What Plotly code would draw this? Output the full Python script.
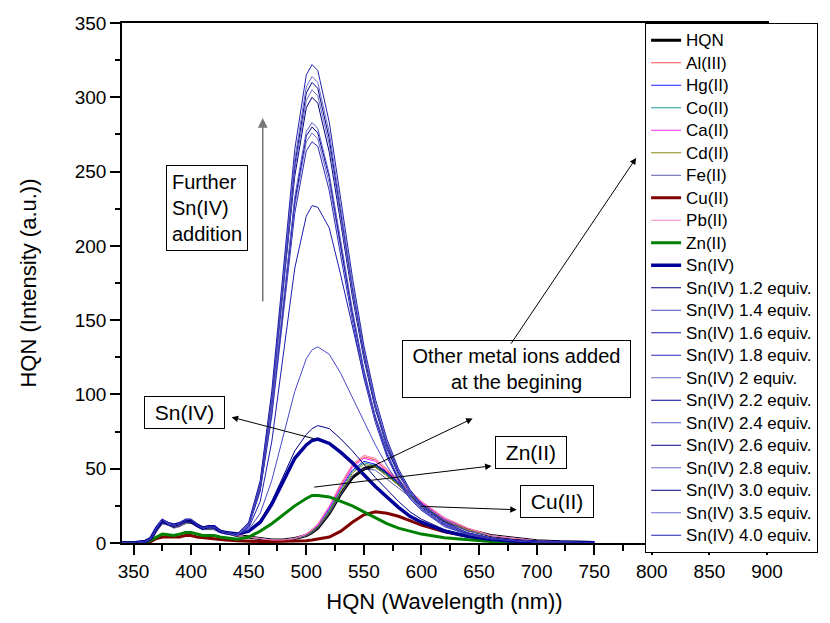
import plotly.graph_objects as go

# ---------------- data ----------------
wavelength = [340, 350, 360, 365, 370, 375, 380, 385, 390, 395, 400, 405, 410, 415, 420, 425, 430,
              440, 450, 460, 470, 480, 490, 500, 505, 510, 520, 530, 540, 550, 560, 570, 580, 590,
              600, 620, 640, 660, 680, 700, 720, 750]

hqn   = [0, 0, 1, 3, 9, 14, 13, 11, 12, 14, 14, 12, 10, 10, 10, 8, 7,
         5, 4, 3, 2, 2, 3, 5, 7, 10, 20, 33, 44, 50, 52, 47, 40, 33, 26, 15, 9, 5, 3, 1.5, 0.8, 0.3]
al3   = [0, 0, 1, 3, 9, 15, 13, 11, 12, 14, 15, 12, 10, 11, 10, 8, 7,
         5, 4, 3, 2, 2, 3, 6, 9, 12, 24, 39, 52, 58, 56, 49, 42, 35, 28, 17, 10, 5, 3, 1.5, 0.8, 0.3]
hg2   = [0, 0, 1, 3, 9, 14, 13, 11, 12, 14, 15, 12, 10, 10, 10, 8, 7,
         5, 4, 3, 2, 2, 3, 6, 8, 12, 23, 37, 49, 55, 53, 47, 40, 33, 27, 16, 9, 5, 3, 1.5, 0.8, 0.3]
co2   = [0, 0, 1, 3, 8, 14, 12, 11, 12, 13, 14, 12, 10, 10, 9, 8, 7,
         5, 4, 3, 2, 2, 3, 5, 8, 11, 22, 36, 48, 54, 52, 46, 40, 33, 26, 16, 9, 5, 3, 1.5, 0.8, 0.3]
ca2   = [0, 0, 1, 3, 9, 15, 13, 11, 12, 14, 15, 12, 10, 11, 10, 8, 7,
         5, 4, 3, 2, 2, 3, 6, 9, 12, 24, 38, 51, 57, 55, 48, 41, 34, 27, 16, 9, 5, 3, 1.5, 0.8, 0.3]
cd2   = [0, 0, 1, 3, 8, 14, 12, 11, 12, 13, 14, 12, 10, 10, 9, 8, 7,
         5, 4, 3, 2, 2, 3, 5, 8, 11, 21, 35, 47, 53, 51, 45, 39, 32, 26, 15, 9, 5, 3, 1.5, 0.8, 0.3]
fe2   = [0, 0, 1, 3, 8, 13, 12, 10, 11, 13, 14, 11, 9, 9, 9, 7, 6,
         5, 4, 3, 2, 2, 3, 5, 7, 10, 20, 33, 45, 50, 49, 43, 37, 31, 25, 15, 8, 5, 3, 1.5, 0.8, 0.3]
cu2   = [0, 0, 0.5, 1, 3, 4, 4, 3.5, 4, 5, 5, 4, 3.5, 3, 3, 2.5, 2,
         1.5, 1, 1, 1, 1, 1, 1.5, 2, 2.5, 4, 8, 14, 19, 21, 20, 18, 15, 12, 7.5, 4.5, 2.5, 1.5, 0.8, 0.4, 0.2]
pb2   = [0, 0, 1, 3, 9, 15, 13, 12, 12, 14, 15, 12, 10, 11, 11, 8, 7,
         5, 4, 3, 2, 2, 3, 6, 9, 13, 25, 40, 53, 59, 57, 50, 43, 35, 28, 17, 10, 5, 3, 1.5, 0.8, 0.3]
zn2   = [0, 0, 0.5, 2, 4, 6, 5.5, 5, 6, 7, 7, 6, 5, 5, 5, 4, 3.5,
         2.5, 4, 8, 13, 19, 25, 30, 32, 32, 31, 28, 25, 21, 17, 13, 10, 8, 6, 3.5, 2, 1, 0.6, 0.3, 0.2, 0.1]
sn4   = [0, 0, 1, 3, 10, 15, 13, 12, 13, 15, 15, 12, 10, 11, 11, 8, 7,
         6, 8, 14, 26, 42, 57, 66, 69, 70, 67, 61, 54, 46, 38, 31, 24, 18, 14, 8, 4.5, 2.5, 1.3, 0.7, 0.4, 0.2]
sn4_12 = [0, 0, 1, 3, 10, 15, 13, 12, 13, 15, 15, 12, 10, 11, 11, 8, 7,
          6, 8, 15, 28, 45, 62, 73, 77, 79, 77, 70, 62, 53, 44, 36, 28, 21, 16, 9, 5, 3, 1.5, 0.8, 0.4, 0.2]
sn4_14 = [0, 0, 1, 3, 10, 15, 13, 12, 13, 15, 15, 12, 10, 11, 11, 8, 7,
          6, 9, 20, 42, 72, 102, 124, 130, 132, 127, 114, 98, 82, 66, 52, 40, 30, 22, 12, 6.5, 3.5, 1.8, 0.9, 0.5, 0.2]
sn4_16 = [0, 0, 1, 3, 10, 15, 13, 12, 13, 15, 15, 12, 10, 11, 11, 8, 7,
          6, 10, 28, 68, 125, 185, 220, 227, 226, 212, 180, 145, 112, 85, 63, 47, 35, 26, 13, 7, 3.5, 1.8, 0.9, 0.5, 0.2]
sn4_18 = [0, 0, 1, 3, 10, 15, 13, 12, 13, 15, 15, 12, 10, 11, 11, 8, 7,
          5, 11, 35, 85, 152, 222, 264, 270, 267, 237, 193, 150, 111, 81, 58, 42, 30, 22, 11, 5.7, 2.9, 1.5, 0.7, 0.35, 0.2]
sn4_20 = [0, 0, 1, 3, 10, 16, 13, 12, 13, 15, 16, 12, 10, 11, 11, 8, 7,
          5, 12, 36, 87, 156, 227, 270, 276, 272, 242, 198, 153, 114, 83, 60, 43, 31, 22, 12, 5.8, 2.9, 1.5, 0.7, 0.36, 0.2]
sn4_22 = [0, 0, 1, 3, 10, 15, 13, 12, 13, 15, 15, 12, 10, 11, 11, 8, 7,
          5, 12, 36, 88, 158, 230, 274, 280, 276, 246, 200, 155, 116, 84, 60, 43, 32, 23, 12, 5.9, 3, 1.5, 0.7, 0.36, 0.2]
sn4_24 = [0, 0, 1, 3, 10, 16, 13, 12, 13, 16, 16, 12, 10, 11, 11, 8, 7,
          5, 12, 37, 89, 160, 233, 277, 283, 279, 248, 203, 157, 117, 85, 61, 44, 32, 23, 12, 5.9, 3, 1.6, 0.7, 0.37, 0.2]
sn4_26 = [0, 0, 1, 3, 10, 15, 13, 12, 13, 15, 15, 12, 10, 11, 11, 8, 7,
          6, 13, 39, 95, 169, 247, 293, 300, 296, 263, 215, 166, 124, 90, 65, 46, 34, 24, 13, 6.3, 3.2, 1.6, 0.8, 0.39, 0.2]
sn4_28 = [0, 0, 1, 3, 10, 16, 13, 12, 13, 15, 16, 12, 10, 11, 11, 8, 7,
          6, 13, 39, 96, 172, 251, 298, 305, 301, 268, 218, 169, 126, 92, 66, 47, 34, 25, 13, 6.4, 3.2, 1.7, 0.8, 0.39, 0.2]
sn4_30 = [0, 0, 1, 3, 10, 15, 13, 12, 13, 15, 15, 12, 10, 11, 11, 8, 7,
          6, 13, 40, 98, 175, 255, 303, 310, 306, 272, 222, 172, 128, 93, 67, 48, 35, 25, 13, 6.5, 3.3, 1.7, 0.8, 0.4, 0.2]
sn4_35 = [0, 0, 1, 3, 10, 16, 13, 12, 13, 16, 16, 12, 10, 11, 11, 8, 7,
          6, 13, 41, 99, 177, 258, 307, 314, 310, 276, 225, 174, 130, 94, 68, 49, 35, 25, 13, 6.6, 3.3, 1.7, 0.8, 0.4, 0.2]
sn4_40 = [0, 0, 1, 3, 10, 16, 14, 12, 13, 16, 16, 12, 10, 11, 11, 8, 7,
          6, 14, 42, 102, 182, 265, 315, 322, 318, 283, 231, 179, 133, 97, 70, 50, 36, 26, 14, 6.8, 3.4, 1.8, 0.8, 0.42, 0.2]

series_names = ["HQN", "Al(III)", "Hg(II)", "Co(II)", "Ca(II)", "Cd(II)", "Fe(II)", "Cu(II)",
                "Pb(II)", "Zn(II)", "Sn(IV)",
                "Sn(IV) 1.2 equiv.", "Sn(IV) 1.4 equiv.", "Sn(IV) 1.6 equiv.", "Sn(IV) 1.8 equiv.",
                "Sn(IV) 2 equiv.", "Sn(IV) 2.2 equiv.", "Sn(IV) 2.4 equiv.", "Sn(IV) 2.6 equiv.",
                "Sn(IV) 2.8 equiv.", "Sn(IV) 3.0 equiv.", "Sn(IV) 3.5 equiv.", "Sn(IV) 4.0 equiv."]
series_values = [hqn, al3, hg2, co2, ca2, cd2, fe2, cu2, pb2, zn2, sn4,
                 sn4_12, sn4_14, sn4_16, sn4_18, sn4_20, sn4_22, sn4_24, sn4_26,
                 sn4_28, sn4_30, sn4_35, sn4_40]

# ---------------- styles ----------------
colors = ["#000000", "#ff4a4a", "#1a1aff", "#1f9a9a", "#ff2aff", "#8a8a10", "#5a5aa8", "#800000",
          "#ff80c0", "#008000", "#000099",
          "#00008b", "#4848c8", "#1c1cb0", "#2a2ab8", "#6a6ad0", "#000090", "#5a5ac8", "#000080",
          "#6a6ad0", "#000080", "#6a6ad0", "#2020b0"]
widths = [3, 1, 1, 1, 1, 1, 1, 3, 1, 3, 3.5] + [1] * 12

FONT = "Liberation Sans, Arial, sans-serif"
NB = "&nbsp;"

fig = go.Figure()
for name, vals, col, w in zip(series_names, series_values, colors, widths):
    fig.add_trace(go.Scatter(
        x=wavelength, y=vals, mode="lines",
        name='<span style="font-size:17px">' + name + '</span>',
        line=dict(color=col, width=w),
    ))

# ---------------- annotations ----------------
ann = []
def box(x, y, text, size=20, align="center", pad=4):
    ann.append(dict(x=x, y=y, xref="x", yref="y", text=text, showarrow=False,
                    font=dict(family=FONT, size=size, color="black"), align=align,
                    bordercolor="black", borderwidth=1, borderpad=pad, bgcolor="white"))

def arrow(x, y, ax, ay, color="black", width=1):
    ann.append(dict(x=x, y=y, ax=ax, ay=ay, xref="x", yref="y", axref="x", ayref="y",
                    text="", showarrow=True, arrowhead=2, arrowsize=1.3,
                    arrowwidth=width, arrowcolor=color))

box(413.5, 225.5, "Further<br>Sn(IV)<br>addition", align="left", pad=5)
arrow(462.2, 286, 462.2, 161.5, color="#777777", width=1.5)
box(394.3, 87.6, NB + "Sn(IV)" + NB, size=21)
arrow(435.2, 84.7, 508.2, 69.9)
box(682.1, 117.1, NB + "Other metal ions added" + NB + "<br>at the begining")
arrow(786.4, 259.2, 676.9, 133.2)
arrow(644.4, 83.8, 539.5, 45)
box(694.9, 60.9, NB + "Zn(II)" + NB, size=21)
arrow(660.9, 51.9, 505.6, 37.5)
box(717.4, 28.0, NB + "Cu(II)" + NB, size=21)
arrow(682.7, 22.4, 598.6, 24.7)

axis_common = dict(showgrid=False, zeroline=False, showline=True, linecolor="black", linewidth=1.5,
                   ticks="outside", ticklen=10, tickwidth=1.5, tickcolor="black",
                   tickfont=dict(family=FONT, size=19, color="black"))

fig.update_layout(
    width=830, height=623,
    margin=dict(l=122, r=63, t=23, b=80),
    paper_bgcolor="white", plot_bgcolor="white",
    font=dict(family=FONT, color="black"),
    showlegend=True,
    legend=dict(x=0.811, y=1.0, xanchor="left", yanchor="top",
                bgcolor="white", bordercolor="black", borderwidth=1,
                font=dict(family=FONT, size=15, color="black"),
                tracegroupgap=0, maxheight=700),
    annotations=ann,
    xaxis=dict(range=[340, 900], tick0=0, dtick=50, mirror=True,
               minor=dict(dtick=25, tick0=0, ticks="outside", ticklen=6, tickwidth=1.5, tickcolor="black"),
               title=dict(text="HQN (Wavelength (nm))", font=dict(family=FONT, size=22, color="black"),
                          standoff=13),
               **axis_common),
    yaxis=dict(range=[0, 350], tick0=0, dtick=50, mirror=True,
               minor=dict(dtick=25, tick0=0, ticks="outside", ticklen=5, tickwidth=1.5, tickcolor="black"),
               title=dict(text="HQN (Intensity (a.u.))", font=dict(family=FONT, size=22, color="black"),
                          standoff=32),
               **axis_common),
    xaxis2=dict(overlaying="x", side="top", anchor="y", range=[340, 900], tick0=0, dtick=25,
                showticklabels=False, ticks="inside", ticklen=5, tickwidth=1, tickcolor="black",
                showgrid=False, zeroline=False, showline=False),
)

fig.write_html("out.html")
